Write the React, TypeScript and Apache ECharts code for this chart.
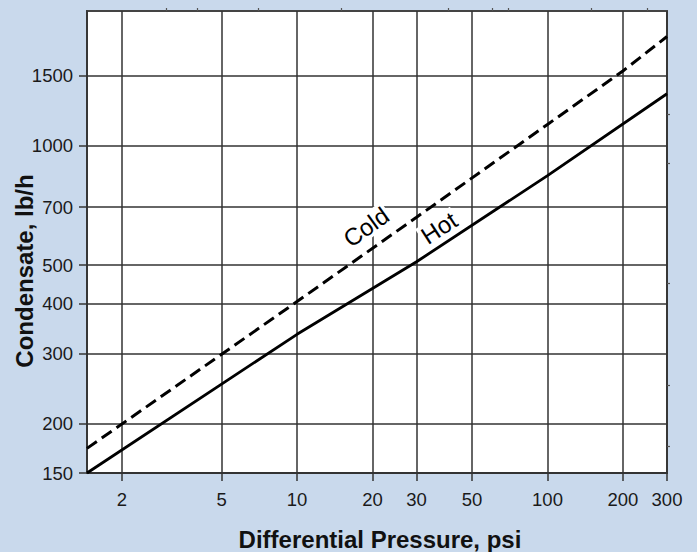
import React, { useEffect, useRef } from "react";
import * as echarts from "echarts";

const hotPressure = [1.45, 10, 30, 100, 300];
const hotFlow = [150, 335, 510, 840, 1350];
const coldPressure = [1.45, 10, 30, 100, 200, 300];
const coldFlow = [173, 405, 660, 1130, 1540, 1880];
const xTicks = [2, 5, 10, 20, 30, 50, 100, 200, 300];
const yTicks = [150, 200, 300, 400, 500, 700, 1000, 1500];
const xMinorTicks = [3, 4, 7, 15, 40, 60, 70, 150, 250];
const yMinorTicks = [175, 250, 450, 900, 1200];
const xRange = [1.45, 300];
const yRange = [150, 2180];

const lg = (v: number) => Math.log10(v);
const toPairs = (xs: number[], ys: number[]) => xs.map((x, i) => [lg(x), lg(ys[i])]);
const fmt = (v: number) => String(Math.round(Math.pow(10, v)));

const FONT = "'Liberation Sans', Arial, Helvetica, sans-serif";

export default function App() {
  const ref = useRef<HTMLDivElement>(null);
  useEffect(() => {
    if (!ref.current) return;
    const chart = echarts.init(ref.current, null, { renderer: "svg" });
    const mainAxisStyle = { color: "#333", width: 1.5 };
    chart.setOption({
      animation: false,
      backgroundColor: "#c9d9ec",
      grid: {
        left: 87,
        right: 30,
        top: 11,
        bottom: 79,
        show: true,
        backgroundColor: "#ffffff",
        borderColor: "#444",
        borderWidth: 2,
      },
      xAxis: [
        {
          type: "value",
          min: lg(xRange[0]),
          max: lg(xRange[1]),
          axisLine: { show: true, lineStyle: mainAxisStyle },
          axisTick: {
            show: true,
            inside: false,
            length: 8,
            customValues: xTicks.map(lg),
            lineStyle: mainAxisStyle,
          },
          axisLabel: {
            customValues: xTicks.map(lg),
            formatter: fmt,
            fontSize: 18.5,
            color: "#1a1a1a",
            fontFamily: FONT,
            margin: 17,
          },
          splitLine: { show: true, lineStyle: mainAxisStyle },
        },
        {
          type: "value",
          position: "top",
          min: lg(xRange[0]),
          max: lg(xRange[1]),
          axisLine: { show: false },
          axisTick: {
            show: true,
            inside: false,
            length: 3,
            customValues: xMinorTicks.map(lg),
            lineStyle: { color: "#555", width: 1.2 },
          },
          axisLabel: { show: false },
          splitLine: { show: false },
        },
      ],
      yAxis: [
        {
          type: "value",
          min: lg(yRange[0]),
          max: lg(yRange[1]),
          axisLine: { show: true, lineStyle: mainAxisStyle },
          axisTick: {
            show: true,
            inside: false,
            length: 8,
            customValues: yTicks.map(lg),
            lineStyle: mainAxisStyle,
          },
          axisLabel: {
            customValues: yTicks.map(lg),
            formatter: fmt,
            fontSize: 18.5,
            color: "#1a1a1a",
            fontFamily: FONT,
            margin: 14,
          },
          splitLine: { show: true, lineStyle: mainAxisStyle },
        },
        {
          type: "value",
          position: "right",
          min: lg(yRange[0]),
          max: lg(yRange[1]),
          axisLine: { show: false },
          axisTick: {
            show: true,
            inside: false,
            length: 3,
            customValues: yMinorTicks.map(lg),
            lineStyle: { color: "#555", width: 1.2 },
          },
          axisLabel: { show: false },
          splitLine: { show: false },
        },
      ],
      series: [
        {
          name: "Cold",
          type: "line",
          showSymbol: false,
          symbol: "none",
          data: toPairs(coldPressure, coldFlow),
          lineStyle: { color: "#000", width: 3, type: [12, 6] },
          z: 3,
        },
        {
          name: "Hot",
          type: "line",
          showSymbol: false,
          symbol: "none",
          data: toPairs(hotPressure, hotFlow),
          lineStyle: { color: "#000", width: 2.8 },
          z: 3,
        },
      ],
      graphic: [
        {
          type: "text",
          x: 366,
          y: 227,
          rotation: (35.6 * Math.PI) / 180,
          z: 10,
          style: {
            text: "Cold",
            fontSize: 24,
            fontFamily: FONT,
            fill: "#000",
            align: "center",
            verticalAlign: "middle",
            backgroundColor: "#fff",
            padding: [0, 2],
          },
        },
        {
          type: "text",
          x: 439,
          y: 228,
          rotation: (33 * Math.PI) / 180,
          z: 10,
          style: {
            text: "Hot",
            fontSize: 24,
            fontFamily: FONT,
            fill: "#000",
            align: "center",
            verticalAlign: "middle",
            backgroundColor: "#fff",
            padding: [0, 2],
          },
        },
        {
          type: "text",
          x: 380,
          y: 539,
          style: {
            text: "Differential Pressure, psi",
            fontSize: 24,
            fontWeight: "bold",
            fontFamily: FONT,
            fill: "#111",
            align: "center",
            verticalAlign: "middle",
          },
        },
        {
          type: "text",
          x: 24,
          y: 271,
          rotation: Math.PI / 2,
          style: {
            text: "Condensate, lb/h",
            fontSize: 24,
            fontWeight: "bold",
            fontFamily: FONT,
            fill: "#111",
            align: "center",
            verticalAlign: "middle",
          },
        },
      ],
    });
    return () => chart.dispose();
  }, []);
  return (
    <div
      ref={ref}
      style={{ position: "absolute", left: 0, top: 0, width: 697, height: 552 }}
    />
  );
}
